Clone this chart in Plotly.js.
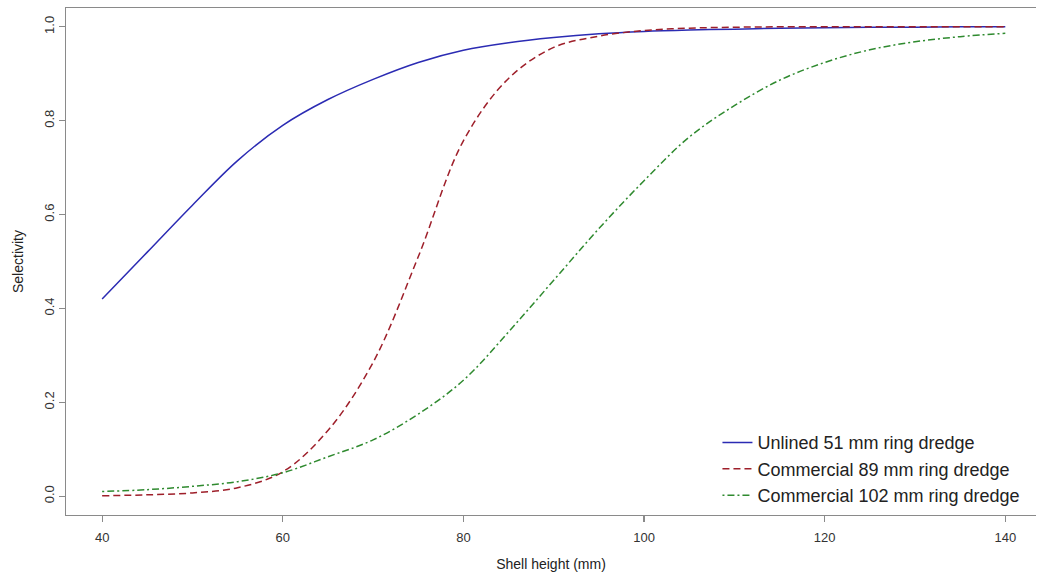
<!DOCTYPE html>
<html>
<head>
<meta charset="utf-8">
<script src="https://cdn.plot.ly/plotly-3.0.1.min.js"></script>
<style>html,body{margin:0;padding:0;background:#fff;}#chart{width:1037px;height:576px;}</style>
</head>
<body>
<div id="chart"></div>
<script>
// Shell height (mm)
const shellHeight = [40,45,50,55,60,65,70,75,80,85,90,95,100,105,110,115,120,125,130,135,140];
// Selectivity
const unlined51 = [0.42,0.52,0.62,0.715,0.79,0.845,0.888,0.924,0.95,0.966,0.977,0.985,0.99,0.993,0.995,0.997,0.998,0.999,0.999,1.0,1.0];
const commercial89 = [0.001,0.003,0.007,0.018,0.052,0.14,0.285,0.51,0.757,0.89,0.956,0.98,0.992,0.997,0.999,1.0,1.0,1.0,1.0,1.0,1.0];
const commercial102 = [0.010,0.014,0.021,0.031,0.05,0.084,0.12,0.175,0.247,0.35,0.46,0.57,0.672,0.765,0.832,0.886,0.924,0.951,0.968,0.979,0.986];
const seriesNames = ["Unlined 51 mm ring dredge","Commercial 89 mm ring dredge","Commercial 102 mm ring dredge"];
const xTicks = [40,60,80,100,120,140];
const yTicks = [0,0.2,0.4,0.6,0.8,1.0];
const yTickText = ["0.0","0.2","0.4","0.6","0.8","1.0"];

const traces = [
  {x: shellHeight, y: unlined51, name: seriesNames[0], mode: "lines",
   line: {color: "#2b2bb3", width: 1.5, shape: "spline", dash: "solid"}},
  {x: shellHeight, y: commercial89, name: seriesNames[1], mode: "lines",
   line: {color: "#9e1f2a", width: 1.5, shape: "spline", dash: "7px,4px"}},
  {x: shellHeight, y: commercial102, name: seriesNames[2], mode: "lines",
   line: {color: "#2f8a2f", width: 1.5, shape: "spline", dash: "2px,3px,7px,3px"}}
];

const axisFont = {family: "Liberation Sans, Arial, sans-serif", size: 13, color: "#333"};
const titleFont = {family: "Liberation Sans, Arial, sans-serif", size: 14, color: "#222"};
const layout = {
  width: 1037, height: 576,
  margin: {l: 66, r: 1, t: 8, b: 61},
  paper_bgcolor: "#fff", plot_bgcolor: "#fff",
  showlegend: true,
  legend: {
    x: 0.6716, y: 0.179, xanchor: "left", yanchor: "top",
    bgcolor: "rgba(0,0,0,0)", borderwidth: 0,
    font: {family: "Liberation Sans, Arial, sans-serif", size: 18, color: "#222"},
    tracegroupgap: 0
  },
  xaxis: {
    range: [36, 143.4], showgrid: false, zeroline: false,
    showline: true, mirror: true, linecolor: "#8a8a8a", linewidth: 1.3,
    ticks: "outside", ticklen: 6, tickcolor: "#8a8a8a", tickwidth: 1.2,
    tickvals: xTicks, tickfont: axisFont, ticklabelstandoff: 4,
    title: {text: "Shell height (mm)", font: titleFont, standoff: 15}
  },
  yaxis: {
    range: [-0.04, 1.04], showgrid: false, zeroline: false,
    showline: true, mirror: false, linecolor: "#8a8a8a", linewidth: 1.3,
    ticks: "outside", ticklen: 6, tickcolor: "#8a8a8a", tickwidth: 1.2,
    tickvals: yTicks, ticktext: yTickText, tickangle: -90, tickfont: axisFont,
    title: {text: "Selectivity", font: titleFont, standoff: 14}
  }
};

Plotly.newPlot("chart", traces, layout, {staticPlot: true, displayModeBar: false});
</script>
</body>
</html>
